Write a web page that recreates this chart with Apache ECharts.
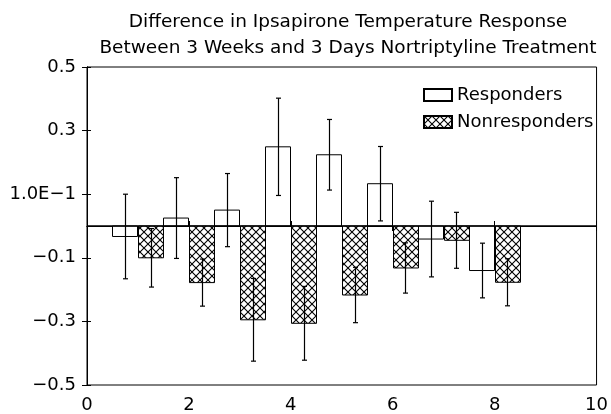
<!DOCTYPE html>
<html>
<head>
<meta charset="utf-8">
<script src="https://cdn.jsdelivr.net/npm/echarts@6/dist/echarts.min.js"></script>
<style>
  html, body { margin: 0; padding: 0; background: #fff; }
  #chart { width: 611px; height: 414px; }
</style>
</head>
<body>
<div id="chart"></div>
<script>
// data
var groups = [1, 2, 3, 4, 5, 6, 7, 8];
var respMean = [-0.033, 0.025, 0.05, 0.249, 0.224, 0.133, -0.041, -0.14];
var respErr = [0.133, 0.127, 0.115, 0.153, 0.111, 0.117, 0.119, 0.086];
var nonMean = [-0.10, -0.178, -0.295, -0.306, -0.217, -0.132, -0.045, -0.177];
var nonErr = [0.092, 0.074, 0.13, 0.116, 0.087, 0.079, 0.088, 0.074];
var yTicks = [-0.5, -0.3, -0.1, 0.1, 0.3, 0.5];
var yTickLabels = ['\u22120.5', '\u22120.3', '\u22120.1', '1.0E\u22121', '0.3', '0.5'];

var FONT = 'DejaVu Sans';
var BAR_W = 0.5;

// crosshatch fill
var tile = document.createElement('canvas');
tile.width = 8; tile.height = 8;
var ctx = tile.getContext('2d');
ctx.fillStyle = '#fff';
ctx.fillRect(0, 0, 8, 8);
ctx.strokeStyle = '#000';
ctx.lineWidth = 1.1;
ctx.beginPath();
ctx.moveTo(-1, -1); ctx.lineTo(9, 9);
ctx.moveTo(-1, 9); ctx.lineTo(9, -1);
ctx.stroke();
var hatch = { image: tile, repeat: 'repeat' };

function barSeries(name, means, errs, shift, fill) {
  return {
    name: name,
    type: 'custom',
    itemStyle: { color: fill, borderColor: '#000', borderWidth: 1 },
    data: groups.map(function (g, i) { return [g + shift, means[i], errs[i]]; }),
    encode: { x: 0, y: 1 },
    renderItem: function (params, api) {
      var x = api.value(0), v = api.value(1);
      var p0 = api.coord([x - BAR_W / 2, v]);
      var p1 = api.coord([x + BAR_W / 2, 0]);
      return {
        type: 'rect',
        shape: {
          x: Math.round(p0[0]) + 0.5,
          y: Math.min(p0[1], p1[1]),
          width: Math.round(p1[0] - p0[0]),
          height: Math.abs(p1[1] - p0[1])
        },
        style: { fill: fill, stroke: '#000', lineWidth: 1 }
      };
    },
    z: 2
  };
}

function errSeries(name, means, errs, shift) {
  return {
    name: name + ' err',
    type: 'custom',
    data: groups.map(function (g, i) { return [g + shift, means[i], errs[i]]; }),
    encode: { x: 0, y: 1 },
    renderItem: function (params, api) {
      var x = api.value(0), v = api.value(1), e = api.value(2);
      var top = api.coord([x, v + e]);
      var bot = api.coord([x, v - e]);
      var cx = Math.round(top[0]) + 0.5;
      var cap = 2.5;
      var st = { stroke: '#000', lineWidth: 1.2 };
      return {
        type: 'group',
        children: [
          { type: 'line', shape: { x1: cx, y1: top[1], x2: cx, y2: bot[1] }, style: st },
          { type: 'line', shape: { x1: cx - cap, y1: top[1], x2: cx + cap, y2: top[1] }, style: st },
          { type: 'line', shape: { x1: cx - cap, y1: bot[1], x2: cx + cap, y2: bot[1] }, style: st }
        ]
      };
    },
    z: 3
  };
}

var chart = echarts.init(document.getElementById('chart'));

var yBase = {
  type: 'value', min: -0.5, max: 0.5,
  splitLine: { show: false },
  axisLine: { show: true, lineStyle: { color: '#000', width: 1 } }
};
var xBase = {
  type: 'value', min: 0, max: 10, interval: 2,
  splitLine: { show: false },
  axisLine: { show: true, lineStyle: { color: '#000', width: 1 } }
};

var respSeries = barSeries('Responders', respMean, respErr, -0.25, '#fff');
respSeries.markLine = {
  silent: true,
  symbol: ['none', 'none'],
  label: { show: false },
  lineStyle: { color: '#000', width: 1.6, type: 'solid' },
  data: [{ yAxis: 0 }],
  z: 5
};

var option = {
  animation: false,
  backgroundColor: '#fff',
  title: {
    text: 'Difference in Ipsapirone Temperature Response\nBetween 3 Weeks and 3 Days Nortriptyline Treatment',
    left: 343, textAlign: 'center', top: 4,
    textStyle: { fontFamily: FONT, fontSize: 18.5, fontWeight: 'normal', color: '#000', lineHeight: 26 }
  },
  legend: {
    data: ['Responders', 'Nonresponders'],
    orient: 'vertical',
    left: 418, top: 81,
    icon: 'rect',
    itemWidth: 28, itemHeight: 12, itemGap: 9,
    textStyle: { fontFamily: FONT, fontSize: 18, color: '#000', lineHeight: 18 }
  },
  grid: {
    left: 87, right: 12, top: 67, bottom: 26,
    show: true, borderColor: '#000', borderWidth: 1, backgroundColor: 'transparent'
  },
  xAxis: [
    Object.assign({}, xBase, {
      axisTick: { show: true, length: 5, lineStyle: { color: '#000' } },
      axisLabel: { margin: 11, fontFamily: FONT, fontSize: 18, color: '#000' }
    }),
    Object.assign({}, xBase, {
      position: 'bottom',
      axisTick: { show: true, inside: true, length: 5, lineStyle: { color: '#000' } },
      axisLabel: { show: false }
    })
  ],
  yAxis: [
    Object.assign({}, yBase, {
      axisTick: { show: true, length: 5, customValues: yTicks, lineStyle: { color: '#000' } },
      axisLabel: {
        margin: 11, fontFamily: FONT, fontSize: 18, color: '#000',
        customValues: yTicks,
        formatter: function (v) {
          var i = yTicks.findIndex(function (t) { return Math.abs(t - v) < 1e-9; });
          return i >= 0 ? yTickLabels[i] : '';
        }
      }
    }),
    Object.assign({}, yBase, {
      position: 'left',
      axisTick: { show: true, inside: true, length: 4, customValues: yTicks, lineStyle: { color: '#000' } },
      axisLabel: { show: false }
    })
  ],
  series: [
    respSeries,
    barSeries('Nonresponders', nonMean, nonErr, 0.25, hatch),
    errSeries('Responders', respMean, respErr, -0.25),
    errSeries('Nonresponders', nonMean, nonErr, 0.25)
  ]
};

chart.setOption(option);
window.onresize = chart.resize;
</script>
</body>
</html>
